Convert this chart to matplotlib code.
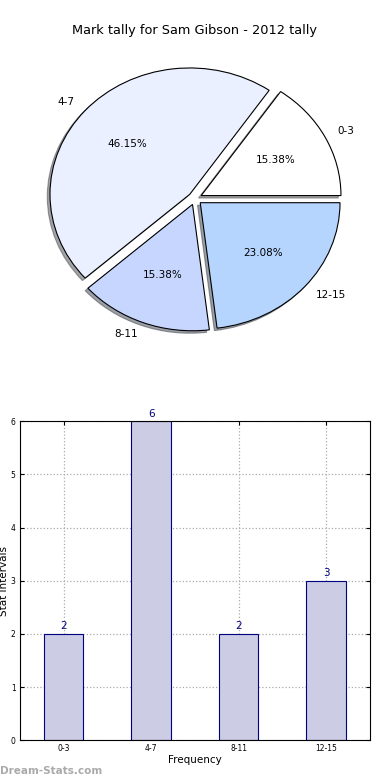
import matplotlib
matplotlib.use("Agg")
import matplotlib.pyplot as plt
import numpy as np

CATEGORIES = ["0-3", "4-7", "8-11", "12-15"]
COUNTS = [2, 6, 2, 3]
PIE_COLORS = ["#FFFFFF", "#EAF0FF", "#C6D6FF", "#B5D5FF"]
EXPLODE = [0.05, 0.05, 0.05, 0.05]

TITLE = "Mark tally for Sam Gibson - 2012 tally"
BAR_FACE = "#CCCCE4"
BAR_EDGE = "#000080"

fig = plt.figure(figsize=(3.9, 7.8), dpi=100)

# ===== Pie chart (not forced to equal aspect, like the old output) =====
ax_pie = fig.add_axes([0.052, 0.543, 0.896, 0.405])
ax_pie.pie(
    COUNTS,
    labels=CATEGORIES,
    colors=PIE_COLORS,
    explode=EXPLODE,
    autopct="%1.2f%%",
    shadow={"ox": -0.014, "oy": -0.014},
    startangle=0,
    wedgeprops={"edgecolor": "black", "linewidth": 0.8},
    textprops={"fontsize": 7.5},
)
ax_pie.set_xlim(-1.25, 1.25)
ax_pie.set_ylim(-1.25, 1.25)
ax_pie.set_aspect("auto")
fig.text(0.5, 0.961, TITLE, ha="center", va="center", fontsize=9.3)

# ===== Bar chart =====
ax_bar = fig.add_axes([0.051, 0.051, 0.897, 0.409])
x = np.arange(len(CATEGORIES))
ax_bar.bar(x, COUNTS, width=0.45, color=BAR_FACE, edgecolor=BAR_EDGE, linewidth=0.8, zorder=2)
for xi, v in zip(x, COUNTS):
    ax_bar.text(xi, v + 0.05, str(v), ha="center", va="bottom", fontsize=7.5, color=BAR_EDGE)
ax_bar.set_xlim(-0.5, 3.5)
ax_bar.set_ylim(0, 6)
ax_bar.set_xticks(x)
ax_bar.set_xticklabels(CATEGORIES)
ax_bar.set_yticks(range(0, 7))
ax_bar.tick_params(labelsize=5.5, direction="in", top=True, right=True, length=3, pad=3)
ax_bar.grid(linestyle=":", color="#AAAAAA", linewidth=0.9, zorder=0)
ax_bar.set_axisbelow(True)
ax_bar.set_xlabel("Frequency", fontsize=7.5, labelpad=1)
ax_bar.set_ylabel("Stat Intervals", fontsize=7.5)
ax_bar.yaxis.set_label_coords(-0.03, 0.5)

fig.text(0.0, 0.012, "Dream-Stats.com", fontsize=7.5, color="#AAAAAA", fontweight="bold", ha="left", va="center")

fig.savefig("out.png", dpi=100)
